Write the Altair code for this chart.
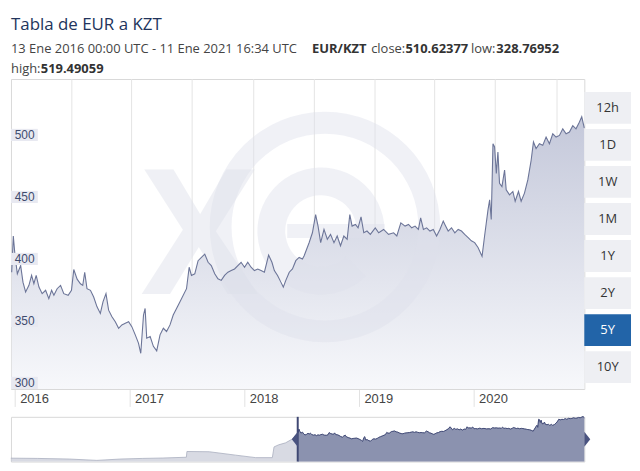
import altair as alt
import pandas as pd

# ---------------- text ----------------
title_text = "Tabla de EUR a KZT"
range_text = "13 Ene 2016 00:00 UTC - 11 Ene 2021 16:34 UTC"
pair_text = "EUR/KZT"
close_label = "close:"
close_value = "510.62377"
low_label = "low:"
low_value = "328.76952"
high_label = "high:"
high_value = "519.49059"

sel_start = (2016, 1, 13)
sel_end = (2021, 1, 11)
nav_start = (2011, 1, 13)

# ---------------- main series (decimal year, EUR/KZT) ----------------
main_t = [
    2016.039, 2016.053, 2016.068, 2016.088, 2016.117, 2016.137, 2016.160, 2016.189,
    2016.212, 2016.232, 2016.252, 2016.276, 2016.304, 2016.334, 2016.362, 2016.386,
    2016.406, 2016.434, 2016.464, 2016.492, 2016.530, 2016.559, 2016.579, 2016.608,
    2016.637, 2016.657, 2016.674, 2016.694, 2016.724, 2016.752, 2016.781, 2016.810,
    2016.833, 2016.859, 2016.882, 2016.911, 2016.940, 2016.969, 2016.997, 2017.027,
    2017.056, 2017.084, 2017.114, 2017.142, 2017.162, 2017.186, 2017.200, 2017.214,
    2017.244, 2017.272, 2017.301, 2017.330, 2017.359, 2017.387, 2017.417, 2017.445,
    2017.474, 2017.504, 2017.561, 2017.584, 2017.604, 2017.633, 2017.662, 2017.691,
    2017.720, 2017.749, 2017.777, 2017.807, 2017.835, 2017.864, 2017.893, 2017.922,
    2017.951, 2017.980, 2018.009, 2018.037, 2018.067, 2018.095, 2018.124, 2018.153,
    2018.182, 2018.211, 2018.240, 2018.277, 2018.306, 2018.327, 2018.355, 2018.384,
    2018.405, 2018.427, 2018.457, 2018.485, 2018.514, 2018.543, 2018.572, 2018.587,
    2018.630, 2018.659, 2018.687, 2018.708, 2018.731, 2018.760, 2018.789, 2018.817,
    2018.847, 2018.875, 2018.904, 2018.933, 2018.962, 2018.985, 2019.005, 2019.034,
    2019.057, 2019.083, 2019.107, 2019.135, 2019.164, 2019.207, 2019.237, 2019.280,
    2019.323, 2019.367, 2019.395, 2019.430, 2019.467, 2019.497, 2019.525, 2019.554,
    2019.583, 2019.603, 2019.627, 2019.655, 2019.684, 2019.713, 2019.742, 2019.771,
    2019.800, 2019.814, 2019.843, 2019.872, 2019.901, 2019.930, 2019.959, 2019.987,
    2020.017, 2020.045, 2020.074, 2020.103, 2020.138, 2020.160, 2020.190, 2020.204,
    2020.218, 2020.233, 2020.247, 2020.262, 2020.276, 2020.290, 2020.311, 2020.334,
    2020.348, 2020.377, 2020.406, 2020.426, 2020.455, 2020.478, 2020.507, 2020.536,
    2020.565, 2020.585, 2020.608, 2020.637, 2020.666, 2020.695, 2020.724, 2020.753,
    2020.782, 2020.811, 2020.840, 2020.869, 2020.898, 2020.927, 2020.955, 2020.984,
    2021.005, 2021.027,
]
main_v = [
    394.2, 423.4, 407.5, 392.9, 399.5, 386.2, 378.3, 383.6,
    391.6, 384.9, 391.6, 382.2, 376.9, 379.6, 372.9, 379.6,
    375.6, 380.9, 383.6, 376.9, 375.6, 379.6, 396.4, 388.6,
    384.9, 383.6, 394.2, 380.9, 379.6, 374.2, 366.3, 361.0,
    370.3, 376.9, 363.6, 358.3, 354.3, 349.0, 351.7, 353.0,
    354.3, 350.3, 343.7, 337.0, 328.8, 359.7, 365.0, 341.0,
    342.3, 334.4, 330.8, 343.7, 349.0, 346.4, 351.7, 359.7,
    365.0, 370.3, 380.9, 398.2, 391.6, 392.9, 403.5, 406.1,
    408.8, 402.2, 399.5, 392.9, 388.9, 387.6, 391.6, 394.2,
    395.5, 396.8, 399.5, 402.2, 398.2, 402.2, 398.2, 395.5,
    396.8, 395.5, 394.2, 408.0, 402.2, 395.5, 391.6, 386.2,
    382.2, 387.6, 394.2, 396.8, 403.5, 406.1, 404.8, 407.5,
    418.0, 426.0, 440.7, 431.4, 418.0, 428.7, 420.8, 424.7,
    418.0, 423.4, 415.5, 423.4, 420.8, 440.7, 431.4, 432.7,
    430.0, 438.9, 426.0, 427.4, 424.7, 430.0, 426.0, 428.7,
    424.7, 426.0, 423.4, 434.0, 431.4, 432.7, 430.0, 431.4,
    428.7, 438.0, 428.7, 430.0, 427.4, 428.7, 423.4, 428.7,
    435.4, 432.7, 427.4, 430.0, 426.0, 428.7, 427.4, 424.7,
    422.1, 419.5, 418.1, 414.1, 407.0, 423.4, 444.7, 452.6,
    436.7, 497.8, 495.2, 473.9, 491.2, 465.9, 463.3, 476.6,
    460.7, 456.6, 459.3, 451.4, 459.3, 451.4, 458.0, 468.6,
    484.5, 499.2, 493.9, 497.8, 496.5, 503.2, 497.8, 505.8,
    503.2, 504.5, 509.8, 505.8, 507.2, 512.4, 509.8, 515.1,
    519.5, 510.6,
]

# earlier history shown only in the navigator (decimal year, EUR/KZT)
nav_pre_t = [2011.03, 2011.49, 2012.06, 2012.53, 2012.93, 2013.33, 2013.68, 2014.09,
             2014.10, 2014.49, 2014.95, 2015.30, 2015.59, 2015.62, 2015.70, 2015.82, 2015.93]
nav_pre_v = [201, 199, 194, 184, 194, 199, 202, 208,
             252, 250, 224, 205, 205, 287, 303, 318, 345]

y_ticks = [300, 350, 400, 450, 500]
y_domain = [300, 550]
grid_t = [2016.562, 2017.082, 2017.610, 2018.147, 2018.676, 2019.205, 2019.725, 2020.253, 2020.790]
year_ticks = [2016, 2017, 2018, 2019, 2020]
nav_y_domain = [175, 517]
nav_grid_v = [250, 320, 390, 460]
nav_grid_years = list(range(2011, 2021))
button_labels = ["12h", "1D", "1W", "1M", "1Y", "2Y", "5Y", "10Y"]
active_button = "5Y"


def to_iso(t):
    y = int(t)
    start = pd.Timestamp(year=y, month=1, day=1)
    end = pd.Timestamp(year=y + 1, month=1, day=1)
    return (start + (end - start) * (t - y)).strftime("%Y-%m-%dT%H:%M:%S")


def dt(ymd):
    return alt.DateTime(year=ymd[0], month=ymd[1], date=ymd[2])


main_df = pd.DataFrame({"date": [to_iso(t) for t in main_t], "v": main_v})
nav_df = pd.DataFrame({"date": [to_iso(t) for t in nav_pre_t + main_t], "v": nav_pre_v + main_v})
grid_df = pd.DataFrame({"date": [to_iso(t) for t in grid_t]})
year_df = pd.DataFrame({"date": ["%d-01-01T00:00:00" % y for y in year_ticks],
                        "label": [str(y) for y in year_ticks]})
ylab_df = pd.DataFrame({"v": y_ticks})
btn_df = pd.DataFrame({"label": button_labels})
edge_df = pd.DataFrame({"date": ["%04d-%02d-%02dT00:00:00" % sel_start, "%04d-%02d-%02dT00:00:00" % sel_end],
                        "side": ["left", "right"]})
one = alt.Data(values=[{}])

W, H = 577, 312
NH = 45

x_main = alt.Scale(domain=[dt(sel_start), dt(sel_end)], nice=False)
y_main = alt.Scale(domain=y_domain, nice=False, zero=False)
X = alt.X("date:T", scale=x_main, axis=None)
Y = alt.Y("v:Q", scale=y_main, axis=None)

grid_color = "#e4e4e4"
x_axis = alt.Axis(labels=False, ticks=False, grid=False, domain=True, domainColor="#c6c6c6",
                  domainWidth=1.5, title=None)
y_axis = alt.Axis(values=y_ticks, labels=False, ticks=False, domain=False, grid=True,
                  gridColor=grid_color, title=None)

vgrid = alt.Chart(grid_df).mark_rule(color=grid_color, strokeWidth=1).encode(x=X)

area = alt.Chart(main_df).mark_area(
    color=alt.Gradient(gradient="linear",
                       stops=[alt.GradientStop(color="#c4c8da", offset=0),
                              alt.GradientStop(color="#f7f8fb", offset=1)],
                       x1=1, x2=1, y1=0, y2=1)
).encode(
    x=alt.X("date:T", scale=x_main, axis=x_axis),
    y=alt.Y("v:Q", scale=y_main, axis=y_axis),
    y2=alt.datum(y_domain[0]),
)

wm_color = "#dde0ea"
ring = alt.Chart(one).mark_arc(innerRadius=94, outerRadius=116, theta=0, theta2=6.2832,
                               color=wm_color, opacity=0.45).encode(
    x=alt.value(316), y=alt.value(149))
wm_x = alt.Chart(one).mark_text(text="X", font="Open Sans", fontWeight="bold", fontSize=175,
                                color=wm_color, opacity=0.45, baseline="middle").encode(
    x=alt.value(190), y=alt.value(163))
wm_e = alt.Chart(one).mark_arc(innerRadius=36, outerRadius=64, theta=2.36, theta2=7.85,
                               color=wm_color, opacity=0.45).encode(
    x=alt.value(312), y=alt.value(153))
wm_bar = alt.Chart(one).mark_rect(color=wm_color, opacity=0.45).encode(
    x=alt.value(278), x2=alt.value(376), y=alt.value(146), y2=alt.value(160))

line = alt.Chart(main_df).mark_line(color="#6c7598", strokeWidth=1.1).encode(x=X, y=Y)

year_sep = alt.Chart(year_df).mark_rule(color="#e2e2e2", strokeWidth=1, xOffset=8).encode(
    x=X, y=alt.value(H + 1), y2=alt.value(H + 18))
year_lab = alt.Chart(year_df).mark_text(align="left", baseline="alphabetic", dx=13,
                                        font="Liberation Sans", fontSize=13, color="#444444").encode(
    x=X, y=alt.value(H + 13.8), text="label:N")

ybox = alt.Chart(ylab_df).transform_calculate(top="datum.v + 9.8").mark_rect(color="#e8e9f1").encode(
    x=alt.value(0), x2=alt.value(27), y=Y, y2="top:Q")
ytext = alt.Chart(ylab_df).mark_text(align="left", baseline="alphabetic", dy=-2.5,
                                     font="Liberation Sans", fontSize=12, color="#3e4b6e").encode(
    x=alt.value(3.7), y=Y, text="v:Q")


def txt(s, x, y, size, bold=False, color="#444444"):
    return alt.Chart(one).mark_text(text=s, align="left", baseline="alphabetic", font="Open Sans",
                                    fontSize=size, fontWeight="bold" if bold else "normal",
                                    color=color).encode(x=alt.value(x), y=alt.value(y))


header = [
    txt(title_text, 0, -49.5, 17, color="#22345c"),
    txt(range_text, 0, -25.9, 13),
    txt(pair_text, 303, -25.9, 13, bold=True, color="#333333"),
    txt(close_label, 362.5, -25.9, 13),
    txt(close_value, 397, -25.9, 13, bold=True, color="#333333"),
    txt(low_label, 463, -25.9, 13),
    txt(low_value, 488.5, -25.9, 13, bold=True, color="#333333"),
    txt(high_label, 0, -5.9, 13),
    txt(high_value, 30, -5.9, 13, bold=True, color="#333333"),
]

main_group = alt.layer(vgrid, area, ring, wm_x, wm_e, wm_bar, line,
                       year_sep, year_lab, ybox, ytext, *header)

btn_y = alt.Y("label:N", sort=button_labels,
              scale=alt.Scale(range=[13, 306], paddingInner=0.14, paddingOuter=0), axis=None)
is_active = alt.datum.label == active_button
btn_rect = alt.Chart(btn_df).mark_rect().encode(
    y=btn_y, x=alt.value(577), x2=alt.value(624),
    color=alt.condition(is_active, alt.value("#2264a8"), alt.value("#eeeff3")))
btn_text = alt.Chart(btn_df).mark_text(font="Open Sans", fontSize=13).encode(
    y=btn_y, x=alt.value(600.5), text="label:N",
    color=alt.condition(is_active, alt.value("#ffffff"), alt.value("#333333")))
buttons = alt.layer(btn_rect, btn_text)

top = alt.layer(main_group, buttons).resolve_scale(y="independent").properties(width=W, height=H)

# ---------------- navigator ----------------
x_nav = alt.Scale(domain=[dt(nav_start), dt(sel_end)], nice=False)
y_nav = alt.Scale(domain=nav_y_domain, nice=False, zero=False)
NX = alt.X("date:T", scale=x_nav, axis=None)
NY = alt.Y("v:Q", scale=y_nav, axis=None)

nav_grid_dates = []
for y in nav_grid_years:
    nav_grid_dates.append(alt.DateTime(year=y, month=7, date=1))
    if y + 1 <= nav_grid_years[-1]:
        nav_grid_dates.append(alt.DateTime(year=y + 1, month=1, date=1))
nav_color = "#e6e6e6"
nav_x_axis = alt.Axis(values=nav_grid_dates, labels=False, ticks=False, domain=False, grid=True,
                      gridColor=nav_color, title=None)
nav_y_axis = alt.Axis(values=nav_grid_v, labels=False, ticks=False, domain=False, grid=True,
                      gridColor=nav_color, title=None)

nav_light = alt.Chart(nav_df).mark_area(color="#c7cbd7", line={"color": "#a9aebf", "strokeWidth": 0.8}).encode(
    x=alt.X("date:T", scale=x_nav, axis=nav_x_axis),
    y=alt.Y("v:Q", scale=y_nav, axis=nav_y_axis),
    y2=alt.datum(nav_y_domain[0]))
nav_dark = alt.Chart(main_df).mark_area(color="#6b7398", line={"color": "#434c78", "strokeWidth": 1}).encode(
    x=NX, y=NY, y2=alt.datum(nav_y_domain[0]))
edge_left = alt.Chart(edge_df).transform_filter(alt.datum.side == "left").mark_rule(
    color="#3f4873", strokeWidth=2).encode(x=NX)
handle_left = alt.Chart(edge_df).transform_filter(alt.datum.side == "left").mark_point(
    shape="M0,-1L-0.8,0L0,1Z", filled=True, size=225, color="#4a5380", opacity=1).encode(
    x=NX, y=alt.value(NH / 2))
handle_right = alt.Chart(edge_df).transform_filter(alt.datum.side == "right").mark_point(
    shape="M0,-1L0.8,0L0,1Z", filled=True, size=225, color="#4a5380", opacity=1).encode(
    x=NX, y=alt.value(NH / 2))

nav = alt.layer(nav_light, nav_dark, edge_left, handle_left, handle_right).properties(width=W, height=NH)

chart = alt.vconcat(top, nav, spacing=28, bounds="flush").properties(
    padding={"top": 6, "left": 0, "right": 0, "bottom": 0}, background="#ffffff"
).configure_view(stroke="#d9d9d9", strokeWidth=1)

chart.save("out.html", embed_options={"renderer": "svg", "actions": False})
